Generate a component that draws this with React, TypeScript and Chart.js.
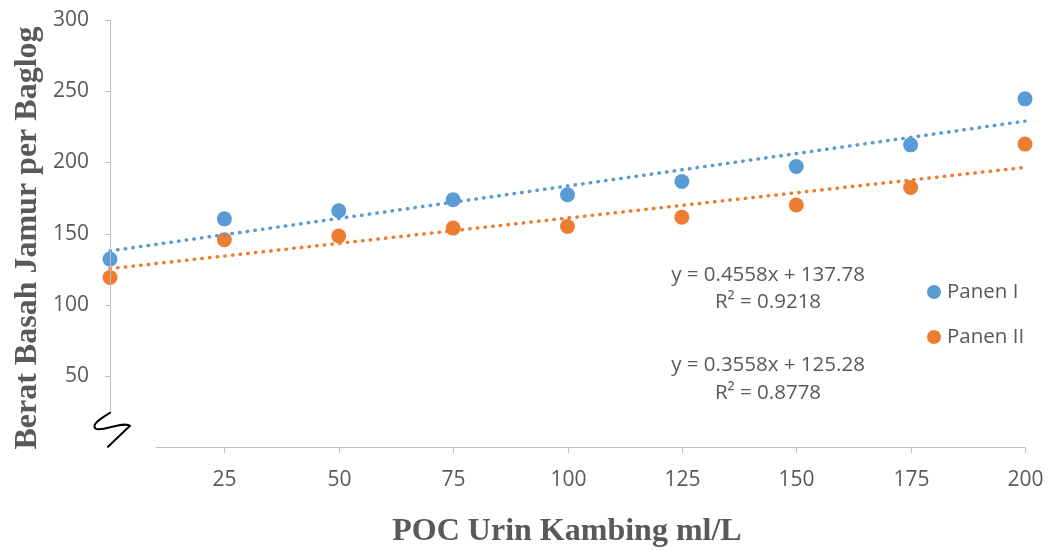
import React, { useEffect, useRef } from "react";
import { Chart, registerables } from "chart.js";

Chart.register(...registerables);

const doses = [0, 25, 50, 75, 100, 125, 150, 175, 200];
const panen1 = [132, 160.3, 166, 173.7, 177.2, 186.5, 197.1, 212.3, 244.6];
const panen2 = [119.1, 145.6, 148.2, 153.8, 154.9, 161.5, 170, 182.3, 212.8];
const trend1 = { slope: 0.4558, intercept: 137.78, r2: "0.9218" };
const trend2 = { slope: 0.3558, intercept: 125.28, r2: "0.8778" };
const xTicks = [25, 50, 75, 100, 125, 150, 175, 200];
const yTicks = [50, 100, 150, 200, 250, 300];
const seriesNames = ["Panen I", "Panen II"];
const xTitle = "POC Urin Kambing ml/L";
const yTitle = "Berat Basah Jamur per Baglog";

const BLUE = "#5B9BD5";
const ORANGE = "#ED7D31";
const TEXT = "#595959";
const AXIS = "#BFBFBF";
const FONT = "'Open Sans', sans-serif";

const decorPlugin = {
  id: "decor",
  afterDraw(chart: any) {
    const ctx = chart.ctx;
    const xs = chart.scales.x;
    const ys = chart.scales.y;
    const x0 = xs.getPixelForValue(0);
    const y0 = ys.getPixelForValue(0);
    ctx.save();
    ctx.strokeStyle = AXIS;
    ctx.lineWidth = 1;
    ctx.beginPath();
    ctx.moveTo(x0 + 0.5, ys.getPixelForValue(300));
    ctx.lineTo(x0 + 0.5, ys.getPixelForValue(24));
    ctx.stroke();
    ctx.beginPath();
    ctx.moveTo(xs.getPixelForValue(10), Math.round(y0) + 0.5);
    ctx.lineTo(xs.getPixelForValue(200), Math.round(y0) + 0.5);
    ctx.stroke();
    ctx.fillStyle = TEXT;
    ctx.font = `21px ${FONT}`;
    ctx.textAlign = "right";
    ctx.textBaseline = "middle";
    yTicks.forEach((v) => {
      const py = Math.round(ys.getPixelForValue(v)) + 0.5;
      ctx.beginPath();
      ctx.moveTo(x0 - 5, py);
      ctx.lineTo(x0 + 0.5, py);
      ctx.stroke();
      ctx.fillText(String(v), x0 - 21, py);
    });
    ctx.textAlign = "center";
    xTicks.forEach((v) => {
      const px = Math.round(xs.getPixelForValue(v)) + 0.5;
      ctx.beginPath();
      ctx.moveTo(px, Math.round(y0) + 0.5);
      ctx.lineTo(px, Math.round(y0) + 6);
      ctx.stroke();
      ctx.fillText(String(v), px, y0 + 33);
    });
    const bx = x0;
    const by = ys.getPixelForValue(24);
    ctx.strokeStyle = "#000";
    ctx.lineWidth = 2;
    ctx.lineJoin = "round";
    ctx.lineCap = "round";
    ctx.beginPath();
    ctx.moveTo(bx, by);
    ctx.bezierCurveTo(bx - 8, by + 5, bx - 20, by + 12, bx - 14, by + 16);
    ctx.bezierCurveTo(bx - 8, by + 19, bx + 14, by + 8, bx + 20, by + 13);
    ctx.lineTo(bx - 2, by + 34);
    ctx.stroke();
    ctx.fillStyle = TEXT;
    ctx.font = `bold 32px 'Liberation Serif', serif`;
    ctx.textAlign = "center";
    ctx.textBaseline = "middle";
    ctx.fillText(xTitle, 567, 532);
    ctx.save();
    ctx.translate(28, 238);
    ctx.rotate(-Math.PI / 2);
    ctx.fillText(yTitle, 0, 0);
    ctx.restore();
    ctx.font = `20.5px ${FONT}`;
    ctx.fillStyle = TEXT;
    const eqs = [
      [trend1, 275, 302],
      [trend2, 365, 393],
    ] as any[];
    eqs.forEach(([t, ya, yb]) => {
      ctx.fillText(`y = ${t.slope}x + ${t.intercept}`, 768, ya);
      ctx.fillText(`R² = ${t.r2}`, 768, yb);
    });
    const legendColors = [BLUE, ORANGE];
    ctx.textAlign = "left";
    seriesNames.forEach((n, i) => {
      const ly = 292 + i * 45;
      ctx.fillStyle = legendColors[i];
      ctx.beginPath();
      ctx.arc(934, ly, 7, 0, Math.PI * 2);
      ctx.fill();
      ctx.fillStyle = TEXT;
      ctx.fillText(n, 947, ly);
    });
    ctx.restore();
  },
};

export default function App() {
  const ref = useRef<HTMLCanvasElement>(null);
  useEffect(() => {
    const pts = (ys: number[]) => doses.map((d, i) => ({ x: d, y: ys[i] }));
    const line = (t: any) => [0, 200].map((d) => ({ x: d, y: t.intercept + t.slope * d }));
    const trendDs = (t: any, c: string) =>
      ({
        type: "line",
        label: "trend",
        data: line(t),
        borderColor: c,
        borderWidth: 3.5,
        borderDash: [0.5, 7.2],
        borderCapStyle: "round",
        pointRadius: 0,
        fill: false,
        clip: false,
      } as any);
    const chart = new Chart(ref.current!, {
      type: "scatter",
      data: {
        datasets: [
          trendDs(trend1, BLUE),
          trendDs(trend2, ORANGE),
          {
            label: seriesNames[0],
            data: pts(panen1),
            backgroundColor: BLUE,
            borderWidth: 0,
            pointRadius: 7.5,
            clip: false,
          } as any,
          {
            label: seriesNames[1],
            data: pts(panen2),
            backgroundColor: ORANGE,
            borderWidth: 0,
            pointRadius: 7.5,
            clip: false,
          } as any,
        ],
      },
      options: {
        animation: false,
        responsive: false,
        layout: { padding: { left: 110, right: 23, top: 20, bottom: 106 } },
        plugins: { legend: { display: false }, tooltip: { enabled: false } },
        scales: {
          x: { type: "linear", min: 0, max: 200, display: false },
          y: { type: "linear", min: 0, max: 300, display: false },
        },
      },
      plugins: [decorPlugin],
    });
    return () => chart.destroy();
  }, []);
  return (
    <div style={{ position: "fixed", left: 0, top: 0, width: 1048, height: 553, background: "#fff" }}>
      <canvas ref={ref} width={1048} height={553} style={{ width: 1048, height: 553 }} />
    </div>
  );
}
